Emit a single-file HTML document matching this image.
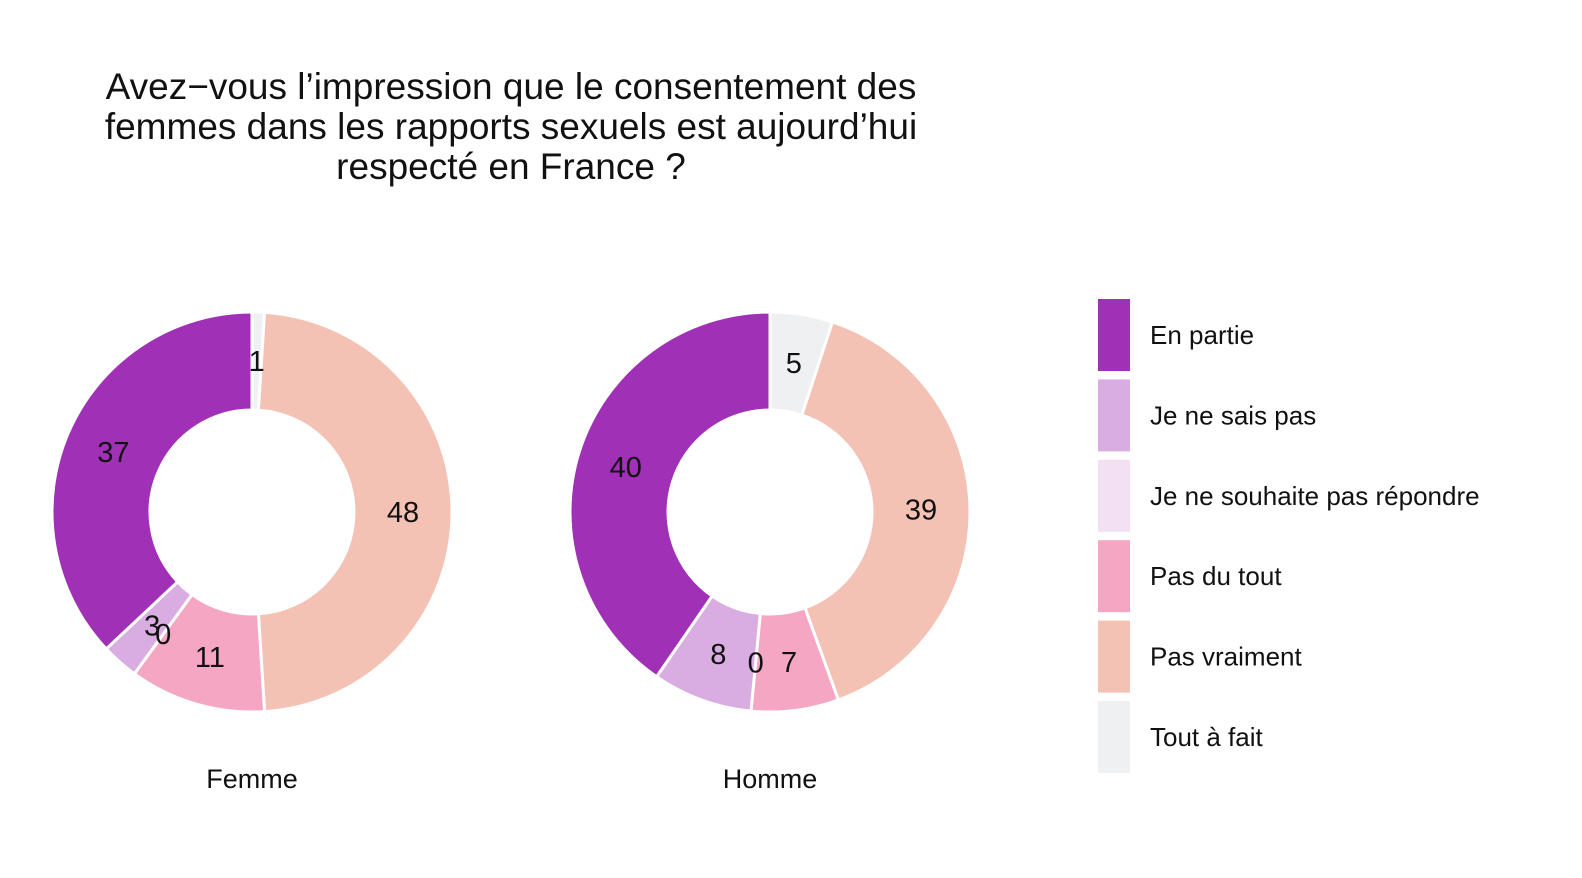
<!DOCTYPE html>
<html><head><meta charset="utf-8"><style>
body{margin:0;background:#fff;}
svg text{font-family:"Liberation Sans",Arial,sans-serif;}
</style></head><body>
<svg id="chart" width="1582" height="873" xmlns="http://www.w3.org/2000/svg">
<rect width="1582" height="873" fill="#fff"/>
<g font-size="37" text-anchor="middle" fill="#111">
<text x="511" y="99">Avez−vous l’impression que le consentement des</text>
<text x="511" y="139">femmes dans les rapports sexuels est aujourd’hui</text>
<text x="511" y="179">respecté en France ?</text>
</g>
<g id="pies"></g>
<g id="labels"></g>
<g id="legend"></g>
</svg>
<script>
const categories=["Tout à fait","Pas vraiment","Pas du tout","Je ne souhaite pas répondre","Je ne sais pas","En partie"];
const legendOrder=["En partie","Je ne sais pas","Je ne souhaite pas répondre","Pas du tout","Pas vraiment","Tout à fait"];
const colors={"En partie":"#A030B6","Je ne sais pas":"#D9ADE1","Je ne souhaite pas répondre":"#F3E1F3","Pas du tout":"#F4A6C3","Pas vraiment":"#F4C2B4","Tout à fait":"#EFF0F2"};
const groups=["Femme","Homme"];
const femmeValues=[1,48,11,0,3,37];
const hommeValues=[5,39,7,0,8,40];
const NS="http://www.w3.org/2000/svg";
const pies=document.getElementById('pies');
const labels=document.getElementById('labels');
const centers=[[252,512],[770,512]];
const R=200,r=102,rl=151;
function pt(cx,cy,rad,a){return [cx+rad*Math.sin(a),cy-rad*Math.cos(a)];}
[femmeValues,hommeValues].forEach((vals,gi)=>{
  const [cx,cy]=centers[gi];
  const tot=vals.reduce((a,b)=>a+b,0);
  let acc=0;
  vals.forEach((v,i)=>{
    const a0=acc/tot*2*Math.PI; acc+=v; const a1=acc/tot*2*Math.PI;
    if(v>0){
      const large=(a1-a0)>Math.PI?1:0;
      const p0=pt(cx,cy,R,a0),p1=pt(cx,cy,R,a1),q1=pt(cx,cy,r,a1),q0=pt(cx,cy,r,a0);
      const path=document.createElementNS(NS,'path');
      path.setAttribute('d',`M${p0}A${R},${R} 0 ${large} 1 ${p1}L${q1}A${r},${r} 0 ${large} 0 ${q0}Z`);
      path.setAttribute('fill',colors[categories[i]]);
      path.setAttribute('stroke','#fff');
      path.setAttribute('stroke-width','3');
      
      
      pies.appendChild(path);
    }
    const am=(a0+a1)/2; const [lx,ly]=pt(cx,cy,rl,am);
    const t=document.createElementNS(NS,'text');
    t.setAttribute('x',lx);t.setAttribute('y',ly+10);
    t.setAttribute('font-size','29');t.setAttribute('text-anchor','middle');t.setAttribute('fill','#111');
    t.textContent=v;
    
    
    labels.appendChild(t);
  });
  const ft=document.createElementNS(NS,'text');
  ft.setAttribute('x',cx);ft.setAttribute('y',788);ft.setAttribute('font-size','27');
  ft.setAttribute('text-anchor','middle');ft.setAttribute('fill','#111');
  ft.textContent=groups[gi];
  
  
  labels.appendChild(ft);
});
const lg=document.getElementById('legend');
legendOrder.forEach((c,i)=>{
  const y=299+i*80.4;
  const rc=document.createElementNS(NS,'rect');
  rc.setAttribute('x',1098);rc.setAttribute('y',y);rc.setAttribute('width',32);rc.setAttribute('height',72);
  rc.setAttribute('fill',colors[c]);
  
  
  lg.appendChild(rc);
  const t=document.createElementNS(NS,'text');
  t.setAttribute('x',1150);t.setAttribute('y',y+45);t.setAttribute('font-size','26');t.setAttribute('fill','#111');
  t.textContent=c;
  
  
  lg.appendChild(t);
});
</script>
</body></html>
